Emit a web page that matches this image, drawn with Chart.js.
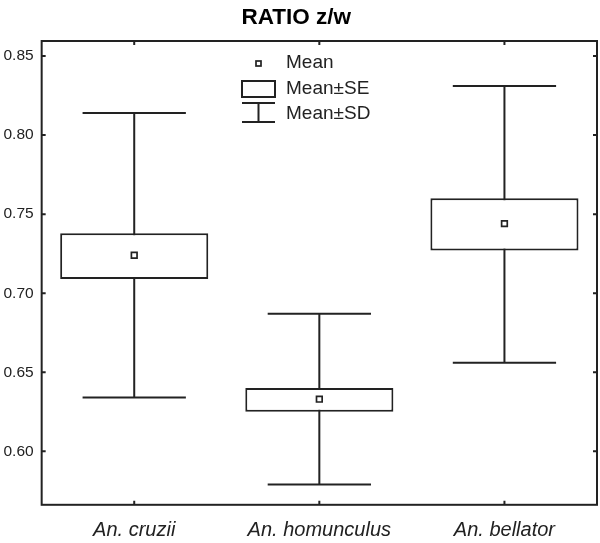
<!DOCTYPE html>
<html>
<head>
<meta charset="utf-8">
<script src="https://cdn.jsdelivr.net/npm/chart.js@4.4.1/dist/chart.umd.min.js"></script>
<style>
  html, body { margin: 0; padding: 0; background: #fff; }
  #wrap { width: 600px; height: 543px; position: relative; }
</style>
</head>
<body>
<div id="wrap"><canvas id="ratioChart"></canvas></div>
<script>
// Values
const categories = ['An. cruzii', 'An. homunculus', 'An. bellator'];
const means = [0.724, 0.633, 0.744];
const seLow = [0.709, 0.625, 0.727];
const seHigh = [0.738, 0.640, 0.760];
const sdLow = [0.634, 0.579, 0.656];
const sdHigh = [0.814, 0.687, 0.831];
const yTicks = [0.60, 0.65, 0.70, 0.75, 0.80, 0.85];

const ink = '#222';
const fontFamily = "'Liberation Sans', Arial, sans-serif";

// SD whiskers, drawn under the SE boxes
const whiskerPlugin = {
    id: 'whiskers',
    beforeDatasetsDraw(chart) {
        const ctx = chart.ctx;
        const x = chart.scales.x;
        const y = chart.scales.y;
        const half = (chart.chartArea.width / categories.length) * 0.558 / 2;
        ctx.save();
        ctx.strokeStyle = ink;
        ctx.lineWidth = 2;
        categories.forEach((c, i) => {
            const cx = x.getPixelForValue(i);
            const top = y.getPixelForValue(sdHigh[i]);
            const bot = y.getPixelForValue(sdLow[i]);
            ctx.beginPath();
            ctx.moveTo(cx, top);
            ctx.lineTo(cx, bot);
            ctx.moveTo(cx - half, top);
            ctx.lineTo(cx + half, top);
            ctx.moveTo(cx - half, bot);
            ctx.lineTo(cx + half, bot);
            ctx.stroke();
        });
        ctx.restore();
    }
};

// Frame, inward ticks and the legend box
const framePlugin = {
    id: 'frame',
    afterDraw(chart) {
        const ctx = chart.ctx;
        const a = chart.chartArea;
        const x = chart.scales.x;
        const y = chart.scales.y;
        ctx.save();
        ctx.strokeStyle = ink;
        ctx.lineWidth = 2;
        ctx.strokeRect(a.left, a.top, a.width, a.height);
        ctx.beginPath();
        yTicks.forEach(v => {
            const py = y.getPixelForValue(v);
            ctx.moveTo(a.left, py); ctx.lineTo(a.left + 4, py);
            ctx.moveTo(a.right, py); ctx.lineTo(a.right - 4, py);
        });
        categories.forEach((c, i) => {
            const px = x.getPixelForValue(i);
            ctx.moveTo(px, a.top); ctx.lineTo(px, a.top + 4);
            ctx.moveTo(px, a.bottom); ctx.lineTo(px, a.bottom - 4);
        });
        ctx.stroke();

        // legend
        const lx = 242, rx = 275, mx = (lx + rx) / 2, tx = 286;
        ctx.lineWidth = 1.7;
        ctx.strokeRect(mx - 2.5, 61, 5, 5);
        ctx.lineWidth = 2;
        ctx.strokeRect(lx, 81, rx - lx, 16);
        ctx.beginPath();
        ctx.moveTo(lx, 103); ctx.lineTo(rx, 103);
        ctx.moveTo(mx, 103); ctx.lineTo(mx, 122);
        ctx.moveTo(lx, 122); ctx.lineTo(rx, 122);
        ctx.stroke();
        ctx.fillStyle = ink;
        ctx.font = '19px ' + fontFamily;
        ctx.textBaseline = 'middle';
        ctx.textAlign = 'left';
        ctx.fillText('Mean', tx, 63);
        ctx.fillText('Mean\u00b1SE', tx, 89);
        ctx.fillText('Mean\u00b1SD', tx, 114);
        ctx.restore();
    }
};

const ctx = document.getElementById('ratioChart').getContext('2d');
const ratioChart = new Chart(ctx, {
    type: 'bar',
    data: {
        labels: categories,
        datasets: [{
            type: 'line',
            label: 'Mean',
            data: means,
            showLine: false,
            pointStyle: 'rect',
            pointRadius: 4,
            pointBorderWidth: 1.7,
            pointBorderColor: ink,
            pointBackgroundColor: '#fff',
            order: 0
        }, {
            label: 'Mean±SE',
            data: categories.map((c, i) => [seLow[i], seHigh[i]]),
            backgroundColor: '#fff',
            borderColor: ink,
            borderWidth: 2,
            borderSkipped: false,
            barPercentage: 0.8,
            categoryPercentage: 1.0,
            order: 1
        }]
    },
    options: {
        responsive: true,
        maintainAspectRatio: false,
        animation: false,
        layout: {
            autoPadding: false,
            padding: { left: -4.5, right: 3, top: 0, bottom: -13 }
        },
        plugins: {
            legend: { display: false },
            tooltip: { enabled: false },
            title: {
                display: true,
                text: 'RATIO z/w',
                color: '#000',
                font: { family: fontFamily, size: 22.5, weight: 'bold' },
                padding: { top: 4, bottom: 10 }
            }
        },
        scales: {
            x: {
                grid: { display: false, drawTicks: false },
                border: { display: false },
                ticks: {
                    color: ink,
                    padding: 13.6,
                    font: { family: fontFamily, size: 20, style: 'italic' }
                }
            },
            y: {
                min: 0.5662,
                max: 0.8595,
                afterBuildTicks: (scale) => {
                    scale.ticks = yTicks.map(v => ({ value: v }));
                },
                grid: { display: false, drawTicks: false },
                border: { display: false },
                ticks: {
                    color: ink,
                    padding: 8,
                    font: { family: fontFamily, size: 15.5 },
                    callback: (v) => Number(v).toFixed(2)
                }
            }
        }
    },
    plugins: [whiskerPlugin, framePlugin]
});
</script>
</body>
</html>
